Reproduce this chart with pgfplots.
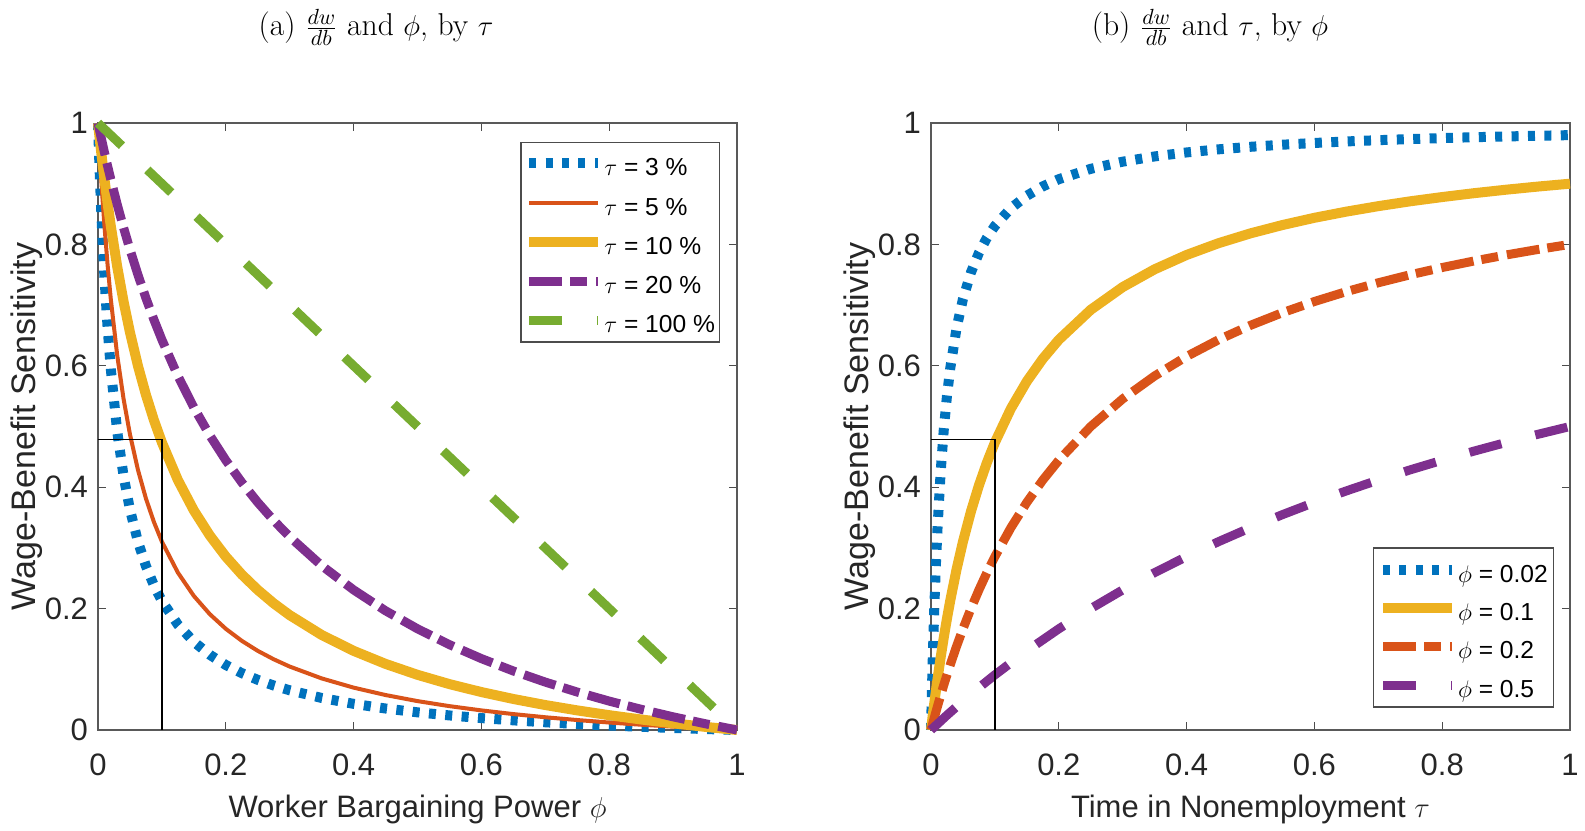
\documentclass[border=0pt]{standalone}
\usepackage{pgfplots}
\pgfplotsset{compat=1.18}
\usepackage{fontspec}
\newfontfamily\arial{Liberation Sans}
\definecolor{mblue}{RGB}{0,114,189}
\definecolor{morange}{RGB}{217,83,25}
\definecolor{myellow}{RGB}{237,177,32}
\definecolor{mpurple}{RGB}{126,47,142}
\definecolor{mgreen}{RGB}{119,172,48}
\pgfplotsset{
 panel/.style={
  scale only axis, width=319.5pt, height=303.5pt,
  xmin=0,xmax=1,ymin=0,ymax=1,
  xtick={0,0.2,0.4,0.6,0.8,1}, ytick={0,0.2,0.4,0.6,0.8,1},
  tick align=inside, major tick length=4pt,
  every tick/.style={black!70, line width=0.6pt},
  axis line style={black!65, line width=0.7pt},
  clip=false,
  /pgf/number format/assume math mode=true,
  tick label style={font=\arial\fontsize{15.5}{18}\selectfont, text=black!85},
  xticklabel style={anchor=base, yshift=-23pt},
  yticklabel style={xshift=-1.5pt},
  label style={font=\arial\fontsize{15.5}{18}\selectfont, text=black!85},
  xlabel style={at={(axis description cs:0.5,0)}, anchor=base, yshift=-44pt},
  ylabel style={at={(axis description cs:-0.0981,0.5)}, anchor=base, font=\arial\fontsize{17}{20}\selectfont},
  title style={font=\fontsize{15.8}{19}\selectfont, anchor=base},
  legend style={font=\arial\fontsize{12.3}{15}\selectfont, draw=black!70, line width=0.6pt,
    nodes={inner sep=0.5pt, text height=12.3pt, text depth=0pt}},
  legend cell align=left,
  legend image code/.code={\draw[#1] (0pt,0pt) -- (34.5pt,0pt);},
 },
 sdot/.style={mblue, line width=5pt, dash pattern=on 3.5pt off 4.7pt},
 sthin/.style={morange, line width=2pt, line join=round},
 sthick/.style={line width=5pt, line join=round},
 sdashdot/.style={line width=4.5pt, line join=round, dash pattern=on 16.5pt off 4pt on 8.5pt off 4.5pt},
 sdash/.style={line width=4.5pt, line join=round, dash pattern=on 16.5pt off 17.5pt},
}
\begin{document}
\begin{tikzpicture}
\useasboundingbox (0,0) rectangle (792.5pt,415pt);
% ---------------- panel (a)
\begin{axis}[panel, at={(49pt,50pt)}, anchor=south west,
  title={(a) $\frac{dw}{db}$ and $\phi$, by $\tau$},
  title style={at={(axis description cs:0.435,1)}, yshift=37.5pt},
  xlabel={Worker Bargaining Power $\phi$},
  ylabel={Wage-Benefit Sensitivity},
  legend style={at={(0.973,0.9695)}, anchor=north east, inner xsep=1.6pt, inner ysep=4pt, row sep=6.35pt}]
\addplot[sdot] coordinates {(0,1) (0.0025,0.9229) (0.005,0.8565) (0.0075,0.7988) (0.01,0.7481) (0.015,0.6633) (0.02,0.5951) (0.03,0.4924) (0.04,0.4186) (0.05,0.3631) (0.0625,0.3103) (0.075,0.2701) (0.0875,0.2383) (0.1,0.2126) (0.125,0.1736) (0.15,0.1453) (0.175,0.1239) (0.2,0.1071) (0.225,0.0937) (0.25,0.0826) (0.275,0.0733) (0.3,0.0654) (0.35,0.0528) (0.4,0.0431) (0.45,0.0354) (0.5,0.0291) (0.55,0.0240) (0.6,0.0196) (0.65,0.0159) (0.7,0.0127) (0.75,0.0099) (0.8,0.0074) (0.85,0.0053) (0.9,0.0033) (0.95,0.0016) (1,0)};
\addlegendentry{$\tau$ = 3 \%}
\addplot[sthin] coordinates {(0,1) (0.0025,0.9523) (0.005,0.9087) (0.0075,0.8687) (0.01,0.8319) (0.015,0.7665) (0.02,0.7101) (0.03,0.6178) (0.04,0.5455) (0.05,0.4872) (0.0625,0.4286) (0.075,0.3814) (0.0875,0.3427) (0.1,0.3103) (0.125,0.2593) (0.15,0.2208) (0.175,0.1908) (0.2,0.1667) (0.225,0.1469) (0.25,0.1304) (0.275,0.1165) (0.3,0.1045) (0.35,0.0850) (0.4,0.0698) (0.45,0.0576) (0.5,0.0476) (0.55,0.0393) (0.6,0.0323) (0.65,0.0262) (0.7,0.0210) (0.75,0.0164) (0.8,0.0123) (0.85,0.0087) (0.9,0.0055) (0.95,0.0026) (1,0)};
\addlegendentry{$\tau$ = 5 \%}
\addplot[sthick, myellow] coordinates {(0,1) (0.0025,0.9755) (0.005,0.9522) (0.0075,0.9297) (0.01,0.9083) (0.015,0.8678) (0.02,0.8305) (0.03,0.7638) (0.04,0.7059) (0.05,0.6552) (0.0625,0.6) (0.075,0.5522) (0.0875,0.5105) (0.1,0.4737) (0.125,0.4118) (0.15,0.3617) (0.175,0.3204) (0.2,0.2857) (0.225,0.2562) (0.25,0.2308) (0.275,0.2086) (0.3,0.1892) (0.35,0.1566) (0.4,0.1304) (0.45,0.1089) (0.5,0.0909) (0.55,0.0756) (0.6,0.0625) (0.65,0.0511) (0.7,0.0411) (0.75,0.0323) (0.8,0.0244) (0.85,0.0173) (0.9,0.0110) (0.95,0.0052) (1,0)};
\addlegendentry{$\tau$ = 10 \%}
\addplot[sdashdot, mpurple] coordinates {(0,1) (0.005,0.9755) (0.01,0.9519) (0.015,0.9292) (0.02,0.9074) (0.03,0.8661) (0.04,0.8276) (0.05,0.7917) (0.0625,0.75) (0.075,0.7115) (0.0875,0.6759) (0.1,0.6429) (0.125,0.5833) (0.15,0.5313) (0.175,0.4853) (0.2,0.4444) (0.225,0.4079) (0.25,0.375) (0.275,0.3452) (0.3,0.3182) (0.35,0.2708) (0.4,0.2308) (0.45,0.1964) (0.5,0.1667) (0.55,0.1406) (0.6,0.1176) (0.65,0.0972) (0.7,0.0789) (0.75,0.0625) (0.8,0.0476) (0.85,0.0341) (0.9,0.0217) (0.95,0.0104) (1,0)};
\addlegendentry{$\tau$ = 20 \%}
\addplot[sdash, mgreen] coordinates {(0,1) (0.5,0.5) (1,0)};
\addlegendentry{$\tau$ = 100 \%}
\addplot[black, line width=0.6pt, forget plot] coordinates {(0,0.478) (0.1,0.478) (0.1,0)};
\end{axis}
% ---------------- panel (b)
\begin{axis}[panel, at={(465.5pt,50pt)}, anchor=south west,
  title={(b) $\frac{dw}{db}$ and $\tau$, by $\phi$},
  title style={at={(axis description cs:0.4366,1)}, yshift=37.5pt},
  xlabel={Time in Nonemployment $\tau$},
  ylabel={Wage-Benefit Sensitivity},
  legend style={at={(0.975,0.037)}, anchor=south east, inner xsep=2.3pt, inner ysep=4.3pt, row sep=5.9pt}]
\addplot[sdot] coordinates {(0,0) (0.0025,0.1091) (0.005,0.1968) (0.0075,0.2687) (0.01,0.3289) (0.015,0.4236) (0.02,0.4949) (0.025,0.5506) (0.03,0.5951) (0.04,0.6622) (0.05,0.7101) (0.0625,0.7538) (0.075,0.7861) (0.0875,0.8109) (0.1,0.8305) (0.125,0.8596) (0.15,0.8802) (0.175,0.8956) (0.2,0.9074) (0.25,0.9245) (0.3,0.9363) (0.35,0.9449) (0.4,0.9515) (0.45,0.9566) (0.5,0.9608) (0.55,0.9642) (0.6,0.9671) (0.65,0.9696) (0.7,0.9717) (0.75,0.9735) (0.8,0.9751) (0.85,0.9766) (0.9,0.9778) (0.95,0.9790) (1,0.98)};
\addlegendentry{$\phi$ = 0.02}
\addplot[sthick, myellow] coordinates {(0,0) (0.0025,0.0220) (0.005,0.0431) (0.0075,0.0632) (0.01,0.0826) (0.015,0.1189) (0.02,0.1525) (0.025,0.1837) (0.03,0.2126) (0.04,0.2647) (0.05,0.3103) (0.0625,0.36) (0.075,0.4030) (0.0875,0.4406) (0.1,0.4737) (0.125,0.5294) (0.15,0.5745) (0.175,0.6117) (0.2,0.6429) (0.25,0.6923) (0.3,0.7297) (0.35,0.7590) (0.4,0.7826) (0.45,0.8020) (0.5,0.8182) (0.55,0.8319) (0.6,0.8438) (0.65,0.8540) (0.7,0.8630) (0.75,0.8710) (0.8,0.8780) (0.85,0.8844) (0.9,0.8901) (0.95,0.8953) (1,0.9)};
\addlegendentry{$\phi$ = 0.1}
\addplot[sdashdot, morange] coordinates {(0,0) (0.005,0.0196) (0.01,0.0385) (0.015,0.0566) (0.02,0.0741) (0.025,0.0909) (0.03,0.1071) (0.04,0.1379) (0.05,0.1667) (0.0625,0.2) (0.075,0.2308) (0.0875,0.2593) (0.1,0.2857) (0.125,0.3333) (0.15,0.375) (0.175,0.4118) (0.2,0.4444) (0.25,0.5) (0.3,0.5455) (0.35,0.5833) (0.4,0.6154) (0.45,0.6429) (0.5,0.6667) (0.55,0.6875) (0.6,0.7059) (0.65,0.7222) (0.7,0.7368) (0.75,0.75) (0.8,0.7619) (0.85,0.7727) (0.9,0.7826) (0.95,0.7917) (1,0.8)};
\addlegendentry{$\phi$ = 0.2}
\addplot[sdash, mpurple] coordinates {(0,0) (0.025,0.0244) (0.05,0.0476) (0.075,0.0698) (0.1,0.0909) (0.15,0.1304) (0.2,0.1667) (0.25,0.2) (0.3,0.2308) (0.35,0.2593) (0.4,0.2857) (0.45,0.3103) (0.5,0.3333) (0.55,0.3548) (0.6,0.375) (0.65,0.3939) (0.7,0.4118) (0.75,0.4286) (0.8,0.4444) (0.85,0.4595) (0.9,0.4737) (0.95,0.4872) (1,0.5)};
\addlegendentry{$\phi$ = 0.5}
\addplot[black, line width=0.6pt, forget plot] coordinates {(0,0.478) (0.1,0.478) (0.1,0)};
\end{axis}
\end{tikzpicture}
\end{document}
